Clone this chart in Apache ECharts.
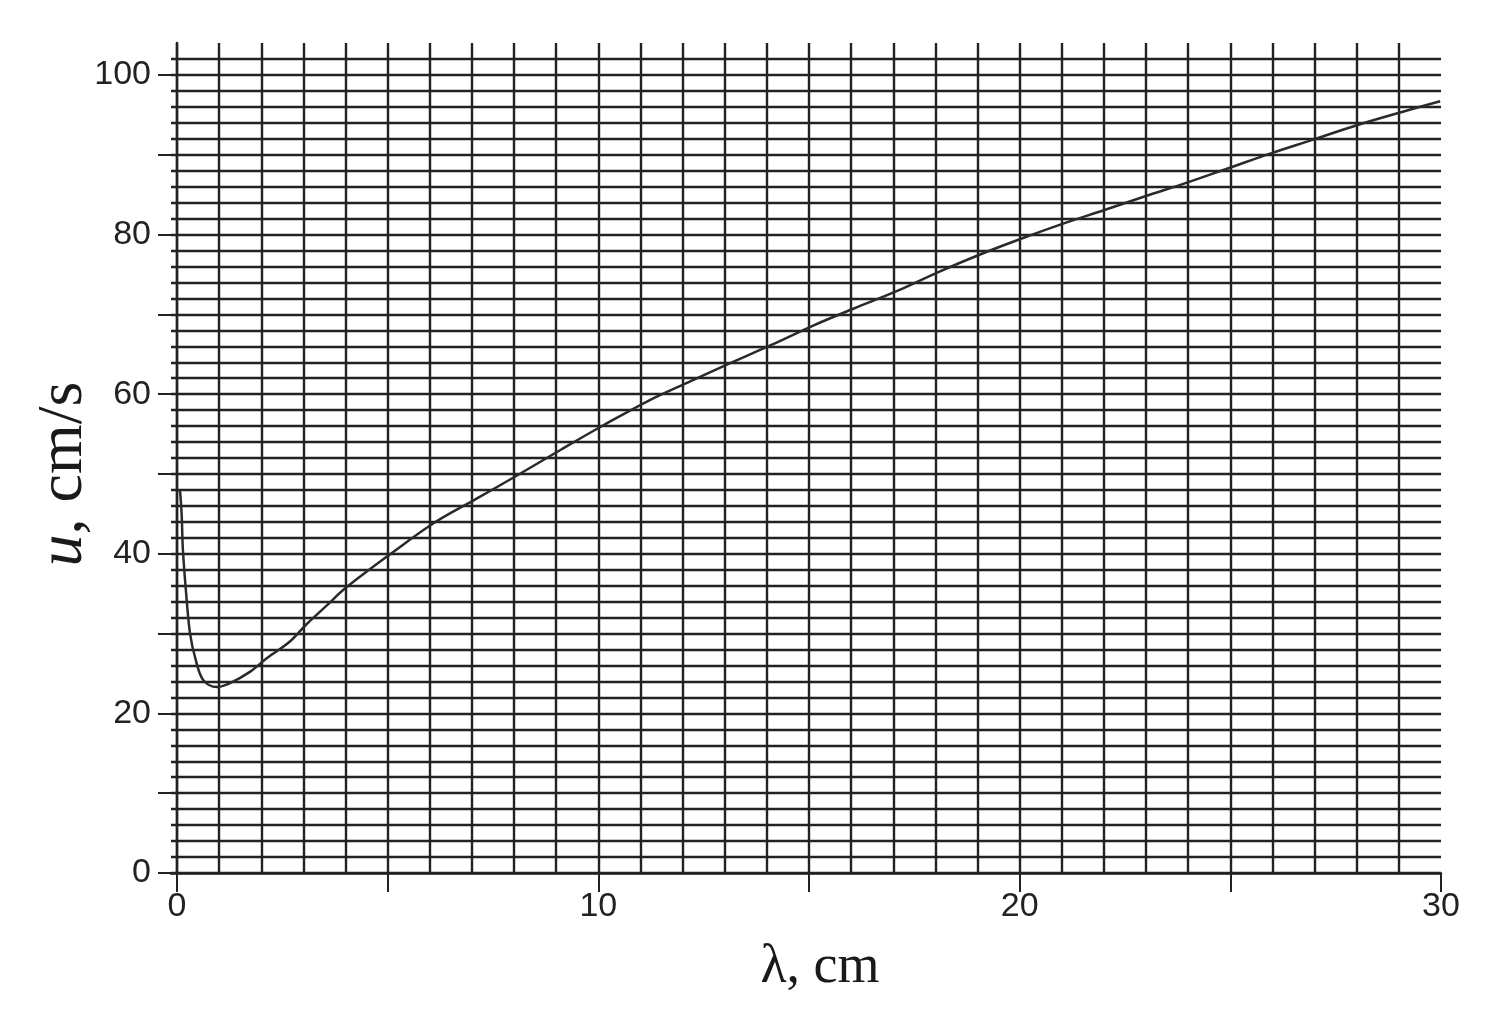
<!DOCTYPE html>
<html>
<head>
<meta charset="utf-8">
<script src="https://cdn.jsdelivr.net/npm/echarts@6/dist/echarts.min.js"></script>
<style>
html,body{margin:0;padding:0;background:#fff;}
#c{width:1486px;height:1018px;}
</style>
</head>
<body>
<div id="c"></div>
<script>
// wavelength λ (cm)
const lambda = [0.07, 0.11, 0.14, 0.23, 0.31, 0.43, 0.62, 0.94, 1.26, 1.73, 2.13, 2.68, 3.08, 3.55, 4.0,
  5.1, 6.08, 7.11, 8.1, 9.13, 10.12, 11.2, 12.18, 13.09, 14.12, 15.1, 16.05, 17.08, 18.07, 19.06,
  20.05, 21.0, 22.03, 22.98, 23.97, 24.95, 25.98, 26.97, 28.0, 29.03, 29.98];
// phase speed u (cm/s)
const speed = [48, 45, 40.5, 34.2, 30, 27, 24.2, 23.3, 23.8, 25.2, 26.9, 29.0, 31.2, 33.5, 35.7,
  40.1, 43.8, 46.9, 49.9, 53.1, 56.1, 59.2, 61.6, 63.8, 66.2, 68.6, 70.7, 72.9, 75.3, 77.5,
  79.5, 81.3, 83.1, 84.8, 86.5, 88.3, 90.2, 91.9, 93.7, 95.3, 96.7];
const xLabelValues = [0, 10, 20, 30];
const yLabelValues = [0, 20, 40, 60, 80, 100];

const lineColor = '#222';
const labelFont = {fontFamily: 'Liberation Sans', fontSize: 34, color: '#222'};

const chart = echarts.init(document.getElementById('c'), null, {renderer: 'canvas'});
chart.setOption({
  animation: false,
  backgroundColor: '#fff',
  grid: [
    {left: 171, right: 45, top: 59, bottom: 145},   // horizontal lines (0..102)
    {left: 177, right: 45, top: 43, bottom: 145},   // vertical lines & curve (0..104)
    {left: 177, right: 45, top: 75, bottom: 145}    // ticks & labels (0..100)
  ],
  xAxis: [
    {gridIndex: 0, type: 'value', min: 0, max: 1, interval: 1,
      axisLine: {show: true, lineStyle: {color: lineColor, width: 2.6}},
      axisTick: {show: false}, axisLabel: {show: false}, splitLine: {show: false}},
    {gridIndex: 1, type: 'value', min: 0, max: 30, interval: 1,
      axisLine: {show: false}, axisTick: {show: false}, axisLabel: {show: false},
      splitLine: {show: true, showMinLine: true, showMaxLine: false,
        lineStyle: {color: lineColor, width: 2.4}}},
    {gridIndex: 2, type: 'value', min: 0, max: 30, interval: 5,
      axisLine: {show: false},
      axisTick: {show: true, inside: false, length: 19, lineStyle: {color: lineColor, width: 2}},
      axisLabel: {show: true, margin: 17, ...labelFont,
        formatter: v => xLabelValues.includes(v) ? String(v) : ''},
      splitLine: {show: false},
      name: 'λ, cm', nameLocation: 'middle', nameGap: 68,
      nameTextStyle: {fontFamily: 'Liberation Serif', fontSize: 54, color: '#1a1a1a', padding: [0, 0, 0, 22]}}
  ],
  yAxis: [
    {gridIndex: 0, type: 'value', min: 0, max: 102, interval: 2,
      axisLine: {show: false}, axisTick: {show: false}, axisLabel: {show: false},
      splitLine: {show: true, lineStyle: {color: lineColor, width: 2.4}}},
    {gridIndex: 1, type: 'value', min: 0, max: 104, interval: 2, offset: 6,
      axisLine: {show: true, lineStyle: {color: lineColor, width: 2.4}},
      axisTick: {show: false}, axisLabel: {show: false}, splitLine: {show: false}},
    {gridIndex: 2, type: 'value', min: 0, max: 100, interval: 10, offset: 6,
      axisLine: {show: false},
      axisTick: {show: true, inside: false, length: 19, lineStyle: {color: lineColor, width: 2}},
      axisLabel: {show: true, margin: 20, ...labelFont,
        formatter: v => yLabelValues.includes(v) ? String(v) : ''},
      splitLine: {show: false},
      name: '{i|u}, cm/s', nameLocation: 'middle', nameGap: 75, nameRotate: 90,
      nameMoveOverlap: false,
      nameTextStyle: {fontFamily: 'Liberation Serif', fontSize: 64, color: '#1a1a1a',
        rich: {i: {fontFamily: 'Liberation Serif', fontStyle: 'italic', fontSize: 64, color: '#1a1a1a'}}}}
  ],
  series: [
    {type: 'line', xAxisIndex: 1, yAxisIndex: 1, showSymbol: false, smooth: 0.35,
      lineStyle: {color: '#2a2a2a', width: 2.5},
      data: lambda.map((x, i) => [x, speed[i]])}
  ]
});
</script>
</body>
</html>
